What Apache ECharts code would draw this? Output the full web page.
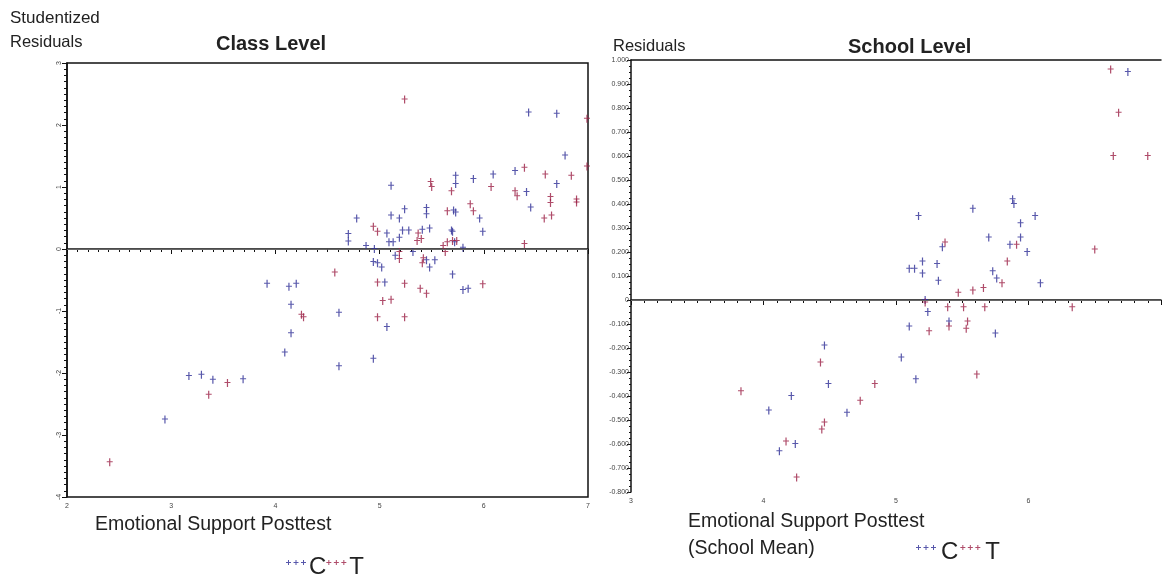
<!DOCTYPE html>
<html><head><meta charset="utf-8">
<script src="https://cdn.jsdelivr.net/npm/echarts@6/dist/echarts.min.js"></script>
<style>html,body{margin:0;padding:0;background:#fff}#c{width:1164px;height:586px}</style>
</head><body><div id="c"></div>
<script>
// ---- Class level (studentized residuals vs emotional support posttest) ----
const classC = [[2.94,-2.75],[3.17,-2.05],[3.29,-2.03],[3.40,-2.11],[3.69,-2.10],[3.92,-0.56],[4.13,-0.61],[4.20,-0.56],[4.15,-0.90],[4.15,-1.36],[4.09,-1.67],[4.61,-1.03],[4.61,-1.89],[4.70,0.24],[4.70,0.12],[4.87,0.05],[4.95,0.0],[4.78,0.49],[5.07,0.25],[5.09,0.11],[5.13,0.11],[5.19,0.18],[5.22,0.30],[5.28,0.30],[5.41,0.31],[5.48,0.33],[5.69,0.30],[5.70,0.28],[5.72,0.11],[5.80,0.02],[5.15,-0.11],[5.32,-0.05],[4.94,-0.21],[4.98,-0.23],[5.02,-0.30],[5.45,-0.18],[5.48,-0.30],[5.53,-0.18],[5.70,-0.41],[5.05,-0.54],[5.80,-0.66],[5.85,-0.64],[5.07,-1.26],[4.94,-1.77],[5.11,0.54],[5.19,0.49],[5.24,0.64],[5.45,0.66],[5.45,0.56],[5.71,0.62],[5.73,0.59],[5.96,0.49],[5.99,0.28],[5.11,1.02],[5.73,1.18],[5.73,1.05],[5.90,1.13],[6.09,1.20],[6.30,1.26],[6.41,0.92],[6.45,0.67],[6.70,1.05],[6.78,1.51],[6.43,2.20],[6.70,2.18]];
const classT = [[2.41,-3.44],[3.36,-2.35],[3.54,-2.16],[4.27,-1.10],[4.25,-1.06],[4.57,-0.38],[4.94,0.36],[4.98,0.28],[5.24,2.41],[5.37,0.25],[5.36,0.13],[5.40,0.16],[5.65,0.11],[5.70,0.13],[5.74,0.13],[5.61,0.05],[5.63,-0.05],[6.39,0.08],[5.19,-0.05],[5.19,-0.16],[5.42,-0.15],[5.41,-0.23],[4.98,-0.54],[5.24,-0.56],[5.39,-0.64],[5.45,-0.72],[5.99,-0.57],[5.03,-0.84],[5.11,-0.82],[4.98,-1.10],[5.24,-1.10],[5.65,0.61],[5.87,0.72],[5.90,0.61],[5.69,0.93],[5.49,1.08],[5.50,1.00],[6.07,1.00],[6.30,0.93],[6.32,0.85],[6.39,1.31],[6.59,1.20],[6.84,1.18],[6.64,0.84],[6.64,0.74],[6.89,0.80],[6.89,0.75],[6.58,0.49],[6.65,0.54],[6.99,2.10],[6.99,1.33]];
// ---- School level (residuals vs school mean) ----
const schoolC = [[4.04,-0.46],[4.12,-0.63],[4.24,-0.60],[4.21,-0.40],[4.46,-0.19],[4.49,-0.35],[4.63,-0.47],[5.04,-0.24],[5.10,-0.11],[5.15,-0.33],[5.17,0.35],[5.10,0.13],[5.14,0.13],[5.20,0.16],[5.20,0.11],[5.22,0.0],[5.24,-0.05],[5.31,0.15],[5.32,0.08],[5.35,0.22],[5.40,-0.09],[5.58,0.38],[5.70,0.26],[5.73,0.12],[5.76,0.09],[5.75,-0.14],[5.86,0.23],[5.88,0.42],[5.89,0.40],[5.94,0.32],[5.94,0.26],[5.99,0.20],[6.05,0.35],[6.09,0.07],[6.75,0.95]];
const schoolT = [[3.83,-0.38],[4.17,-0.59],[4.25,-0.74],[4.43,-0.26],[4.44,-0.54],[4.46,-0.51],[4.73,-0.42],[4.84,-0.35],[5.22,-0.01],[5.25,-0.13],[5.37,0.24],[5.39,-0.03],[5.40,-0.11],[5.47,0.03],[5.51,-0.03],[5.54,-0.09],[5.53,-0.12],[5.58,0.04],[5.61,-0.31],[5.67,-0.03],[5.66,0.05],[5.80,0.07],[5.84,0.16],[5.91,0.23],[6.33,-0.03],[6.50,0.21],[6.62,0.96],[6.68,0.78],[6.64,0.60],[6.90,0.60]];

const colorC = '#2e2e96';
const colorT = '#9b1f45';
const plus = 'path://M2 0 h1 v3 h2 v1 h-2 v4 h-1 v-4 h-2 v-1 h2 Z';
function triple(){
  let p='';
  for(let i=0;i<3;i++){const x=i*6;p+=`M${x+1.6} 0 h0.8 v1.6 h1.6 v0.8 h-1.6 v1.6 h-0.8 v-1.6 h-1.6 v-0.8 h1.6 Z `;}
  return 'path://'+p+'M0 11 L0.01 11 L0.01 11.01 Z';
}
const tiny = {fontSize:7,color:'#444',fontFamily:'Liberation Sans'};
const axisLine = {lineStyle:{color:'#111',width:1.5}};
function scat(name, data, color, idx, withLine){
  const s = {name, type:'scatter', xAxisIndex:idx, yAxisIndex:idx, data,
    symbol:plus, symbolSize:[6,8], itemStyle:{color}, z:3};
  if(withLine){
    s.markLine = {silent:true, symbol:'none', label:{show:false},
      lineStyle:{color:'#666',width:1,type:'solid'}, data:[{yAxis:0}]};
  }
  return s;
}
const font = 'Liberation Sans, Arial, sans-serif';
const txt = (text,left,top,size,weight,extra) => Object.assign({text,left,top,padding:0,
  textStyle:{fontSize:size,fontWeight:weight||'normal',color:'#222',fontFamily:font,lineHeight:27}},extra||{});

const chart = echarts.init(document.getElementById('c'));
chart.setOption({
  backgroundColor:'#fff',
  animation:false,
  title:[
    txt('Studentized',10,5,17),
    txt('Residuals',10,29,16.5),
    txt('Class Level',216,31,20,'bold'),
    txt('Residuals',613,33,16.5),
    txt('School Level',848,34,20,'bold'),
    txt('Emotional Support Posttest',95,511,19.5),
    txt('Emotional Support Posttest\n(School Mean)',688,508,19.5)
  ],
  legend:[
    {left:281,top:550,data:['C','T'],icon:triple(),itemWidth:20,itemHeight:14,itemGap:0,
      textStyle:{fontSize:24,color:'#222',fontFamily:font,padding:[0,0,0,-2]}},
    {left:911,top:535,data:['C','T'],icon:triple(),itemWidth:20,itemHeight:14,itemGap:2,
      textStyle:{fontSize:24,color:'#222',fontFamily:font,padding:[0,0,0,0]}}
  ],
  grid:[
    {left:67,right:576,top:63,bottom:89,show:true,borderColor:'#111',borderWidth:1.5,backgroundColor:'#fff'},
    {left:631,right:0,top:60,bottom:94,show:false}
  ],
  xAxis:[
    {type:'value',gridIndex:0,min:2,max:7,interval:1,axisLine,
      axisTick:{show:true,length:5,lineStyle:{color:'#111'}},
      minorTick:{show:true,splitNumber:10,length:3,lineStyle:{color:'#111'}},
      splitLine:{show:false},axisLabel:Object.assign({margin:6},tiny)},
    {type:'value',gridIndex:1,min:3,max:7,interval:1,axisLine,
      axisTick:{show:true,length:5,lineStyle:{color:'#111'}},
      minorTick:{show:true,splitNumber:10,length:3,lineStyle:{color:'#111'}},
      splitLine:{show:false},
      axisLabel:Object.assign({margin:6,formatter:v=>v===7?'':String(v)},tiny)},
    {type:'value',gridIndex:1,position:'top',min:3,max:7,axisLine,
      axisTick:{show:false},axisLabel:{show:false},splitLine:{show:false}}
  ],
  yAxis:[
    {type:'value',gridIndex:0,min:-4,max:3,interval:1,axisLine,
      axisTick:{show:true,length:5,lineStyle:{color:'#111'}},
      minorTick:{show:true,splitNumber:10,length:3,lineStyle:{color:'#111'}},
      splitLine:{show:false},axisLabel:Object.assign({margin:4,rotate:90},tiny)},
    {type:'value',gridIndex:1,min:-0.8,max:1.0,interval:0.1,axisLine,
      axisTick:{show:true,length:4,lineStyle:{color:'#111'}},
      minorTick:{show:true,splitNumber:4,length:2,lineStyle:{color:'#111'}},
      splitLine:{show:false},
      axisLabel:Object.assign({margin:2,formatter:v=>Math.abs(v)<1e-9?'0':v.toFixed(3)},tiny)}
  ],
  series:[
    scat('C',classC,colorC,0,true),
    scat('T',classT,colorT,0,false),
    scat('C',schoolC,colorC,1,true),
    scat('T',schoolT,colorT,1,false)
  ]
});
</script></body></html>
